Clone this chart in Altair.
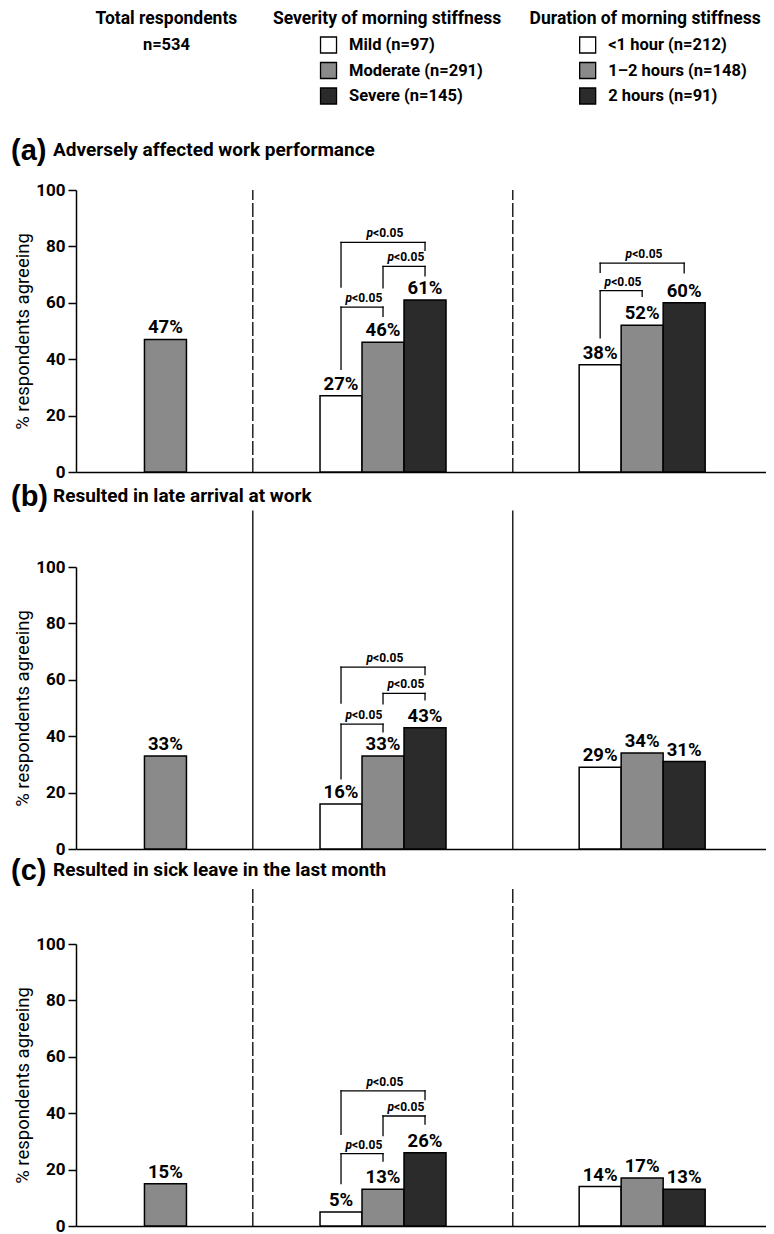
import altair as alt
import pandas as pd

# ---------------- data ----------------
group_titles = ["Total respondents", "Severity of morning stiffness", "Duration of morning stiffness"]
total_label = ["n=534"]
severity_labels = ["Mild (n=97)", "Moderate (n=291)", "Severe (n=145)"]
duration_labels = ["<1 hour (n=212)", "1\u20132 hours (n=148)", "2 hours (n=91)"]
panel_letters = ["(a)", "(b)", "(c)"]
panel_titles = [
    "Adversely affected work performance",
    "Resulted in late arrival at work",
    "Resulted in sick leave in the last month",
]
total_values = [47, 33, 15]
severity_values = [[27, 46, 61], [16, 33, 43], [5, 13, 26]]
duration_values = [[38, 52, 60], [29, 34, 31], [14, 17, 13]]
y_ticks = [0, 20, 40, 60, 80, 100]
y_title = "% respondents agreeing"
p_parts = ["p", "<0.05"]
# significance brackets: group, first bar, second bar, bracket top, left-leg bottom, right-leg bottom (% units)
brackets = [
    [("sev", 0, 1, 58.5, 36.4, 55.2), ("sev", 1, 2, 72.9, 65.3, 69.6), ("sev", 0, 2, 81.4, 65.6, 78.6),
     ("dur", 0, 1, 64.3, 47.6, 62.3), ("dur", 0, 2, 74.1, 70.8, 70.6)],
    [("sev", 0, 1, 44.3, 24.9, 41.5), ("sev", 1, 2, 55.2, 51.5, 52.9), ("sev", 0, 2, 64.5, 51.7, 61.8)],
    [("sev", 0, 1, 25.7, 15.0, 23.0), ("sev", 1, 2, 39.0, 32.1, 36.1), ("sev", 0, 2, 47.9, 32.5, 44.8)],
]

# ---------------- layout / style ----------------
FONT = "Roboto, Liberation Sans, Arial, sans-serif"
FONT_WIDE = "Liberation Sans, Arial, Helvetica, sans-serif"
W, H = 690, 282
SLOT = 42.0
XMAX = W / SLOT
TOTAL_POS = 2.13
GROUP_START = {"sev": 6.31, "dur": 12.48}
DIVIDERS = [4.21, 10.40]
divider_dash = [[14, 3], [1, 0], [14, 3]]
divider_top = [100, 120, 120]
title_y = [-40, -71, -74]
header_dx = [1, 4, 3]
shade = ["#ffffff", "#8a8a8a", "#2b2b2b"]

xs = alt.Scale(domain=[0, XMAX], nice=False, zero=False)
ys = alt.Scale(domain=[0, 100], nice=False)

x_axis = alt.Axis(labels=False, ticks=False, grid=False, title=None, domain=True,
                  domainColor="black", domainWidth=1.5)
y_axis = alt.Axis(values=y_ticks, title=y_title, grid=False, domain=True, domainColor="black", domainWidth=1.5,
                  ticks=True, tickColor="black", tickWidth=1.5, tickSize=8, labelPadding=3,
                  labelFont=FONT, labelFontSize=17, labelFontWeight="bold", labelColor="black",
                  titleFont=FONT, titleFontSize=18.5, titleFontWeight="normal", titleColor="black",
                  titlePadding=3)


def panel(i):
    rows = [dict(pos=TOTAL_POS, value=total_values[i], fill=shade[1])]
    for k, v in enumerate(severity_values[i]):
        rows.append(dict(pos=GROUP_START["sev"] + k, value=v, fill=shade[k]))
    for k, v in enumerate(duration_values[i]):
        rows.append(dict(pos=GROUP_START["dur"] + k, value=v, fill=shade[k]))
    df = pd.DataFrame(rows)
    df["x0"] = df["pos"] - 0.5
    df["x1"] = df["pos"] + 0.5
    df["zero"] = 0
    df["label"] = df["value"].astype(str) + "%"

    base = alt.Chart(df)
    bars = base.mark_rect(stroke="black", strokeWidth=1.5).encode(
        x=alt.X("x0:Q", scale=xs, axis=x_axis),
        x2="x1:Q",
        y=alt.Y("value:Q", scale=ys, axis=y_axis),
        y2="zero:Q",
        fill=alt.Fill("fill:N", scale=None),
    )
    vlabels = base.mark_text(font=FONT, fontSize=18.5, fontWeight="bold", baseline="bottom", dy=-2,
                             color="black").encode(
        x=alt.X("pos:Q"), y=alt.Y("value:Q"), text="label:N")

    layers = [bars, vlabels]

    # dividers
    ddf = pd.DataFrame({"pos": DIVIDERS, "y0": [0, 0], "y1": [divider_top[i]] * 2})
    layers.append(alt.Chart(ddf).mark_rule(color="black", strokeWidth=1.3, strokeDash=divider_dash[i]).encode(
        x=alt.X("pos:Q"), y=alt.Y("y0:Q"), y2="y1:Q"))

    # brackets
    segs, plab = [], []
    for g, a, b, top, lb, rb in brackets[i]:
        xa, xb = GROUP_START[g] + a, GROUP_START[g] + b
        segs += [dict(xa=xa, xb=xa, ya=lb, yb=top), dict(xa=xa, xb=xb, ya=top, yb=top),
                 dict(xa=xb, xb=xb, ya=rb, yb=top)]
        plab.append(dict(xm=(xa + xb) / 2, top=top))
    sdf = pd.DataFrame(segs)
    layers.append(alt.Chart(sdf).mark_rule(color="black", strokeWidth=1.3, strokeCap="square").encode(
        x=alt.X("xa:Q"), x2="xb:Q", y=alt.Y("ya:Q"), y2="yb:Q"))
    pdf = pd.DataFrame(plab)
    pdf["p"] = p_parts[0]
    pdf["rest"] = p_parts[1]
    layers.append(alt.Chart(pdf).mark_text(font=FONT, fontSize=12, fontWeight="bold", fontStyle="italic",
                                           align="right", baseline="bottom", dx=-10, dy=-2, color="black").encode(
        x=alt.X("xm:Q"), y=alt.Y("top:Q"), text="p:N"))
    layers.append(alt.Chart(pdf).mark_text(font=FONT, fontSize=12, fontWeight="bold",
                                           align="left", baseline="bottom", dx=-10, dy=-2, color="black").encode(
        x=alt.X("xm:Q"), y=alt.Y("top:Q"), text="rest:N"))

    # panel title
    tdf = pd.DataFrame({"letter": [panel_letters[i]], "title": [panel_titles[i]]})
    layers.append(alt.Chart(tdf).mark_text(font=FONT_WIDE, fontSize=29, fontWeight="bold", align="left",
                                           baseline="middle", color="black").encode(
        x=alt.value(-65), y=alt.value(title_y[i] + 1), text="letter:N"))
    layers.append(alt.Chart(tdf).mark_text(font=FONT, fontSize=19, fontWeight="bold", align="left",
                                           baseline="middle", color="black").encode(
        x=alt.value(-23), y=alt.value(title_y[i]), text="title:N"))

    if i == 0:
        hdf = pd.DataFrame({"pos": [TOTAL_POS + header_dx[0] / SLOT,
                                    GROUP_START["sev"] + 1 + header_dx[1] / SLOT,
                                    GROUP_START["dur"] + 1 + header_dx[2] / SLOT],
                            "title": group_titles})
        layers.append(alt.Chart(hdf).mark_text(font=FONT, fontSize=17.5, fontWeight="bold",
                                               baseline="middle", color="black").encode(
            x=alt.X("pos:Q"), y=alt.value(-171), text="title:N"))
        ndf = pd.DataFrame({"pos": [TOTAL_POS + header_dx[0] / SLOT], "t": total_label})
        layers.append(alt.Chart(ndf).mark_text(font=FONT, fontSize=16.5, fontWeight="bold",
                                               baseline="middle", color="black").encode(
            x=alt.X("pos:Q"), y=alt.value(-145), text="t:N"))
        leg_rows = [-145, -119.5, -94]
        lrows = []
        for g, labels in (("sev", severity_labels), ("dur", duration_labels)):
            for k, lab in enumerate(labels):
                lrows.append(dict(sq=GROUP_START[g] - 0.5 + 8.5 / SLOT, tx=GROUP_START[g] - 0.5 + 29 / SLOT,
                                  py=leg_rows[k], fill=shade[k], label=lab))
        ldf = pd.DataFrame(lrows)
        layers.append(alt.Chart(ldf).mark_square(size=256, stroke="black", strokeWidth=1.3, opacity=1).encode(
            x=alt.X("sq:Q"), y=alt.Y("py:Q", scale=None),
            fill=alt.Fill("fill:N", scale=None)))
        layers.append(alt.Chart(ldf).mark_text(font=FONT, fontSize=16.5, fontWeight="bold", align="left",
                                               baseline="middle", color="black").encode(
            x=alt.X("tx:Q"), y=alt.Y("py:Q", scale=None), text="label:N"))

    return alt.layer(*layers).properties(width=W, height=H)


chart = alt.vconcat(panel(0), panel(1), panel(2), spacing=95, bounds="flush").properties(
    padding={"left": 3, "top": 2, "right": 0, "bottom": 0}
).configure_view(stroke=None)

chart.save("out.html", embed_options={"renderer": "svg", "actions": False})
